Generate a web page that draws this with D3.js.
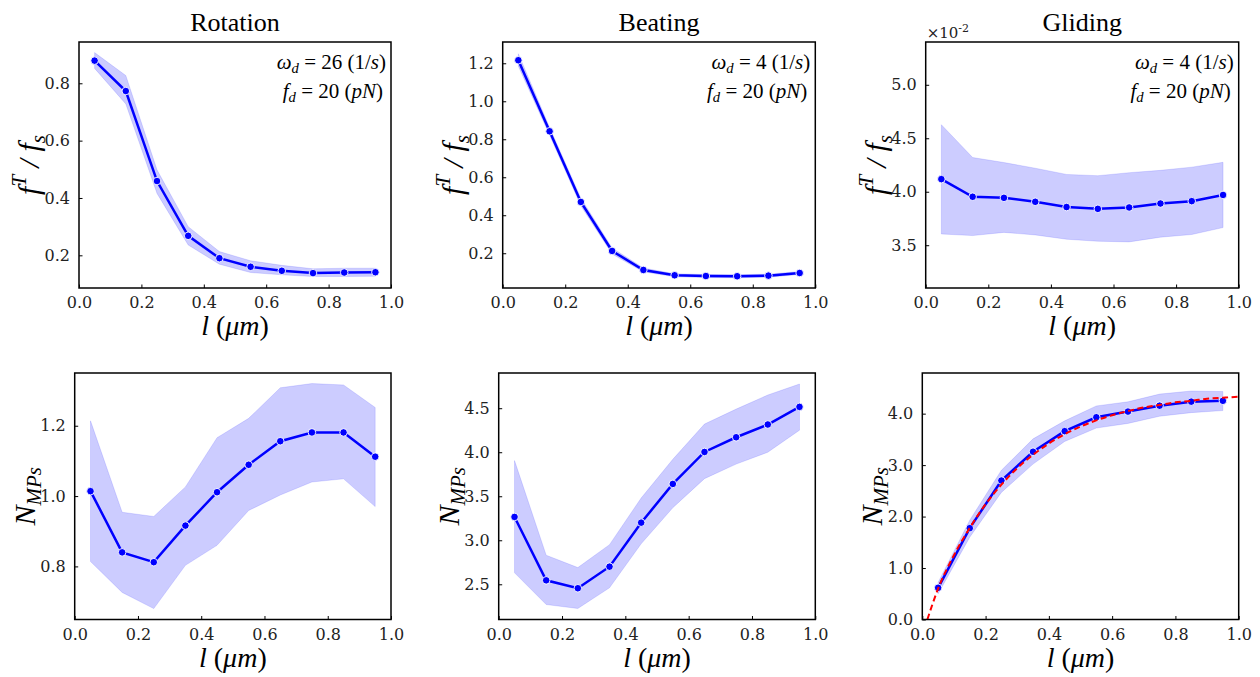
<!DOCTYPE html>
<html>
<head>
<meta charset="utf-8">
<script src="https://cdn.jsdelivr.net/npm/d3@7"></script>
<style>
  body { margin: 0; background: #fff; }
  svg { display: block; }
</style>
</head>
<body>
<div id="chart"></div>
<script>
// data
var lengths = [0.05, 0.15, 0.25, 0.35, 0.45, 0.55, 0.65, 0.75, 0.85, 0.95];
var titles = ["Rotation", "Beating", "Gliding"];
var xTicks = [0.0, 0.2, 0.4, 0.6, 0.8, 1.0];

var rotForce   = [0.879, 0.773, 0.459, 0.268, 0.190, 0.160, 0.146, 0.138, 0.140, 0.141];
var rotForceHi = [0.907, 0.827, 0.498, 0.300, 0.213, 0.181, 0.165, 0.153, 0.155, 0.155];
var rotForceLo = [0.852, 0.728, 0.416, 0.236, 0.169, 0.140, 0.132, 0.126, 0.126, 0.127];

var beatForce   = [1.216, 0.842, 0.470, 0.212, 0.112, 0.084, 0.080, 0.079, 0.082, 0.096];
var beatForceHi = [1.250, 0.862, 0.490, 0.228, 0.122, 0.092, 0.088, 0.087, 0.090, 0.104];
var beatForceLo = [1.185, 0.822, 0.450, 0.196, 0.102, 0.076, 0.072, 0.071, 0.074, 0.088];

// gliding force, in units of 1e-2
var glideForce   = [4.118, 3.953, 3.943, 3.906, 3.857, 3.840, 3.853, 3.890, 3.912, 3.970];
var glideForceHi = [4.627, 4.320, 4.273, 4.220, 4.162, 4.150, 4.178, 4.200, 4.230, 4.275];
var glideForceLo = [3.605, 3.590, 3.620, 3.596, 3.556, 3.537, 3.531, 3.575, 3.600, 3.665];

var rotMPs   = [1.014, 0.840, 0.812, 0.916, 1.011, 1.089, 1.156, 1.181, 1.181, 1.112];
var rotMPsHi = [1.214, 0.954, 0.942, 1.026, 1.166, 1.221, 1.308, 1.320, 1.316, 1.252];
var rotMPsLo = [0.814, 0.726, 0.680, 0.803, 0.860, 0.959, 1.003, 1.040, 1.049, 0.970];

var beatMPs   = [3.265, 2.545, 2.455, 2.700, 3.200, 3.640, 4.003, 4.170, 4.315, 4.515];
var beatMPsHi = [3.905, 2.830, 2.690, 2.950, 3.480, 3.920, 4.320, 4.490, 4.650, 4.775];
var beatMPsLo = [2.630, 2.270, 2.225, 2.460, 2.960, 3.370, 3.700, 3.865, 4.000, 4.250];

var glideMPs   = [0.616, 1.775, 2.700, 3.260, 3.660, 3.930, 4.040, 4.155, 4.233, 4.250];
var glideMPsHi = [0.720, 1.930, 2.900, 3.510, 3.860, 4.150, 4.230, 4.380, 4.440, 4.430];
var glideMPsLo = [0.500, 1.600, 2.470, 3.020, 3.460, 3.720, 3.810, 3.950, 4.020, 4.060];

// red dashed fit in the gliding N panel
var fitX = [0.016, 0.05, 0.10, 0.15, 0.20, 0.25, 0.30, 0.35, 0.40, 0.45, 0.50,
            0.55, 0.60, 0.65, 0.70, 0.75, 0.80, 0.85, 0.90, 0.95, 1.00];
var fitY = [0.00, 0.60, 1.25, 1.78, 2.24, 2.62, 2.94, 3.20, 3.42, 3.60, 3.75,
            3.87, 3.97, 4.05, 4.12, 4.17, 4.22, 4.25, 4.29, 4.31, 4.33];

var W = 1260, H = 677;
var svg = d3.select("#chart").append("svg")
    .attr("width", W)
    .attr("height", H);

var serif = "'DejaVu Serif', serif";
var mathFont = "'Liberation Serif', 'Times New Roman', serif";

var forceLabel = [{t: "f", i: 1}, {t: "T", i: 1, sup: 1}, {t: " / ", i: 1}, {t: "f", i: 1}, {t: "s", i: 1, sub: 1}];
var mpsLabel = [{t: "N", i: 1}, {t: "MPs", i: 1, sub: 1}];

var panels = [
  { box: [79, 391, 42, 288], y: rotForce, hi: rotForceHi, lo: rotForceLo, dom: [0.086, 0.944], ticks: [0.2, 0.4, 0.6, 0.8], ylab: forceLabel, title: titles[0], note: ["26", "20"] },
  { box: [502.7, 815.3, 42, 288], y: beatForce, hi: beatForceHi, lo: beatForceLo, dom: [0.017, 1.312], ticks: [0.2, 0.4, 0.6, 0.8, 1.0, 1.2], ylab: forceLabel, title: titles[1], note: ["4", "20"] },
  { box: [925.7, 1238.7, 42, 288], y: glideForce, hi: glideForceHi, lo: glideForceLo, dom: [3.10, 5.40], ticks: [3.5, 4.0, 4.5, 5.0], ylab: forceLabel, title: titles[2], note: ["4", "20"], offset: true },
  { box: [74.7, 391, 373, 619.5], y: rotMPs, hi: rotMPsHi, lo: rotMPsLo, dom: [0.649, 1.35], ticks: [0.8, 1.0, 1.2], ylab: mpsLabel },
  { box: [498.7, 815.3, 373, 619.5], y: beatMPs, hi: beatMPsHi, lo: beatMPsLo, dom: [2.10, 4.90], ticks: [2.5, 3.0, 3.5, 4.0, 4.5], ylab: mpsLabel },
  { box: [922.3, 1238.7, 373, 619.5], y: glideMPs, hi: glideMPsHi, lo: glideMPsLo, dom: [0, 4.79], ticks: [0.0, 1.0, 2.0, 3.0, 4.0], ylab: mpsLabel, fit: true }
];

// writes a little math expression as tspans
function mathText(sel, parts, size) {
  var shift = 0;
  parts.forEach(function(p) {
    var target = p.sup ? -0.42 * size : p.sub ? 0.2 * size : 0;
    sel.append("tspan")
        .text(p.t)
        .style("font-style", p.i ? "italic" : "normal")
        .style("font-size", ((p.sup || p.sub) ? size * 0.7 : size) + "px")
        .attr("dy", target - shift);
    shift = target;
  });
  return sel;
}

panels.forEach(function(p) {
  var x = d3.scaleLinear().domain([0, 1]).range([p.box[0], p.box[1]]);
  var y = d3.scaleLinear().domain(p.dom).range([p.box[3], p.box[2]]);
  var g = svg.append("g");

  g.append("defs").append("clipPath").attr("id", "clip" + p.box[0])
    .append("rect")
    .attr("x", p.box[0]).attr("y", p.box[2])
    .attr("width", p.box[1] - p.box[0]).attr("height", p.box[3] - p.box[2]);

  var plot = g.append("g").attr("clip-path", "url(#clip" + p.box[0] + ")");

  // error band
  var area = d3.area()
      .x(function(d, i) { return x(lengths[i]); })
      .y0(function(d, i) { return y(p.lo[i]); })
      .y1(function(d, i) { return y(p.hi[i]); });
  plot.append("path")
    .attr("d", area(lengths))
    .attr("fill", "rgba(0,0,255,0.2)")
    .attr("stroke", "rgba(0,0,255,0.12)")
    .attr("stroke-width", 1);

  var line = d3.line()
      .x(function(d, i) { return x(lengths[i]); })
      .y(function(d, i) { return y(p.y[i]); });
  plot.append("path")
    .attr("d", line(lengths))
    .attr("fill", "none")
    .attr("stroke", "#0000ff")
    .attr("stroke-width", 2.5);

  plot.selectAll("circle")
    .data(lengths)
    .enter()
    .append("circle")
    .attr("cx", function(d) { return x(d); })
    .attr("cy", function(d, i) { return y(p.y[i]); })
    .attr("r", 3.8)
    .attr("fill", "#0000ff")
    .attr("stroke", "#fff")
    .attr("stroke-width", 0.9);

  if (p.fit) {
    var fitLine = d3.line()
        .x(function(d) { return x(d); })
        .y(function(d, i) { return y(fitY[i]); })
        .curve(d3.curveMonotoneX);
    plot.append("path")
      .attr("d", fitLine(fitX))
      .attr("fill", "none")
      .attr("stroke", "#ff0000")
      .attr("stroke-width", 2)
      .attr("stroke-dasharray", "6,3.5");
  }

  // axes with inward ticks
  var xAxis = g.append("g")
      .attr("transform", "translate(0," + p.box[3] + ")")
      .call(d3.axisBottom(x).tickValues(xTicks).tickFormat(d3.format(".1f")).tickSizeInner(-3.5).tickSizeOuter(0).tickPadding(9));
  var yAxis = g.append("g")
      .attr("transform", "translate(" + p.box[0] + ",0)")
      .call(d3.axisLeft(y).tickValues(p.ticks).tickFormat(d3.format(".1f")).tickSizeInner(-3.5).tickSizeOuter(0).tickPadding(9));
  [xAxis, yAxis].forEach(function(a) {
    a.attr("font-family", null).attr("font-size", null);
    a.select(".domain").remove();
    a.selectAll("line").attr("stroke", "#000").attr("stroke-width", 1);
    a.selectAll("text")
      .style("font-family", serif)
      .style("font-size", "16px")
      .attr("fill", "#222");
  });
  xAxis.selectAll("text").attr("dy", "0.71em");

  g.append("rect")
    .attr("x", p.box[0]).attr("y", p.box[2])
    .attr("width", p.box[1] - p.box[0]).attr("height", p.box[3] - p.box[2])
    .attr("fill", "none")
    .attr("stroke", "#000")
    .attr("stroke-width", 1.5);

  // x label
  var cx = (p.box[0] + p.box[1]) / 2;
  mathText(g.append("text")
      .attr("x", cx)
      .attr("y", p.box[3] + 47)
      .attr("text-anchor", "middle")
      .style("font-family", mathFont),
    [{t: "l", i: 1}, {t: " (", i: 0}, {t: "\u03bcm", i: 1}, {t: ")", i: 0}], 28);

  // y label
  var cy = (p.box[2] + p.box[3]) / 2;
  mathText(g.append("text")
      .attr("transform", "translate(" + (p.box[0] - 40) + "," + cy + ") rotate(-90)")
      .attr("text-anchor", "middle")
      .style("font-family", mathFont),
    p.ylab, 30);

  if (p.title) {
    g.append("text")
      .attr("x", cx)
      .attr("y", 31)
      .attr("text-anchor", "middle")
      .style("font-family", "'Liberation Serif', serif")
      .style("font-size", "26px")
      .text(p.title);

    var n1 = g.append("text")
        .attr("x", p.box[1] - 5)
        .attr("y", p.box[2] + 27)
        .attr("text-anchor", "end")
        .style("font-family", mathFont);
    mathText(n1, [{t: "\u03c9", i: 1}, {t: "d", i: 1, sub: 1}, {t: " = " + p.note[0] + " (1/", i: 0}, {t: "s", i: 1}, {t: ")", i: 0}], 21);
    var n2 = g.append("text")
        .attr("x", p.box[1] - 8)
        .attr("y", p.box[2] + 56)
        .attr("text-anchor", "end")
        .style("font-family", mathFont);
    mathText(n2, [{t: "f", i: 1}, {t: "d", i: 1, sub: 1}, {t: " = " + p.note[1] + " (", i: 0}, {t: "pN", i: 1}, {t: ")", i: 0}], 21);
  }

  if (p.offset) {
    var off = g.append("text")
        .attr("x", p.box[0] + 1)
        .attr("y", p.box[2] - 4)
        .style("font-family", serif)
        .style("font-size", "15px")
        .attr("fill", "#222");
    off.append("tspan").text("\u00d710");
    off.append("tspan").text("-2").style("font-size", "11px").attr("dy", -6);
  }
});
</script>
</body>
</html>
